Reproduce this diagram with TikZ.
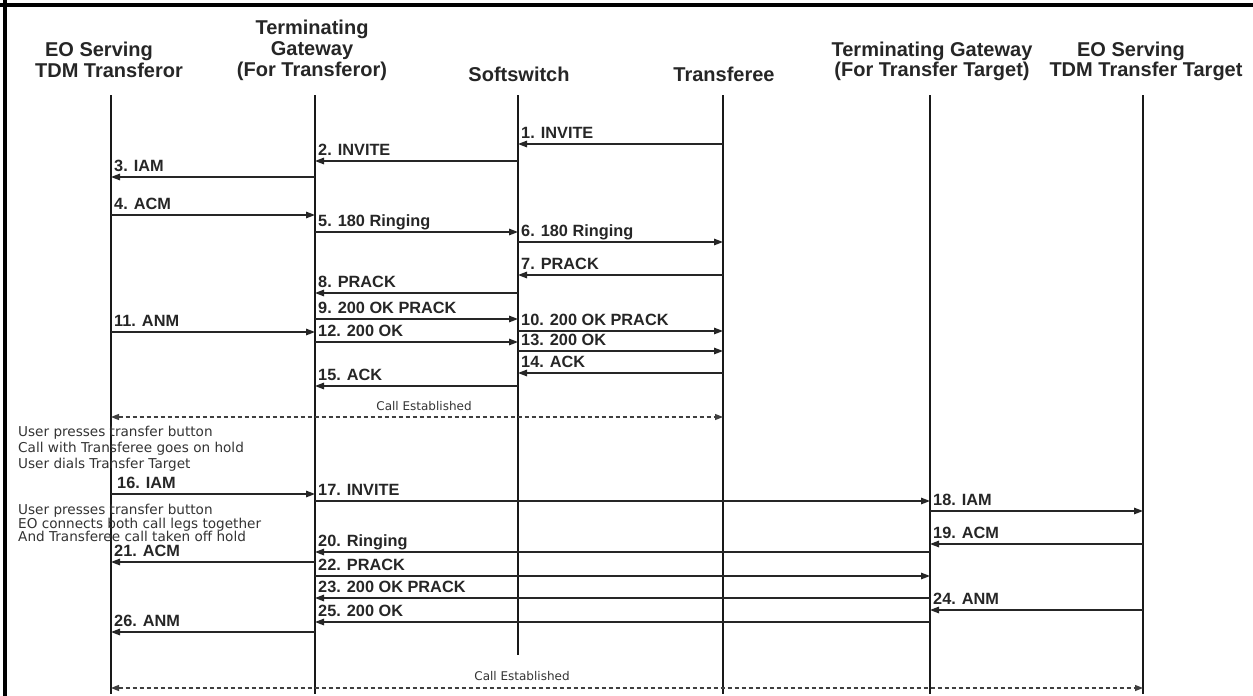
\documentclass[tikz,border=0pt]{standalone}
\usepackage{fontspec}
\setmainfont{Liberation Sans}
\newfontfamily\notefont{DejaVu Sans}
\usetikzlibrary{arrows.meta}
\tikzset{
  life/.style={line width=1.1pt, black!90},
  msg/.style={line width=1.4pt, black!85, -{Triangle[length=9pt,width=6.5pt]}},
  callest/.style={line width=1.3pt, black!75, dash pattern=on 4pt off 3pt,
    {Triangle[length=8pt,width=6pt]}-{Triangle[length=8pt,width=6pt]}},
  head/.style={font=\fontsize{20}{21}\selectfont\bfseries, align=center, inner sep=0pt, text=black!85, anchor=north},
  headr/.style={head, font=\fontsize{20}{17}\selectfont\bfseries},
  lbl/.style={font=\fontsize{16.3}{17}\selectfont\bfseries, inner sep=0pt, anchor=base west, text=black!85},
  note/.style={font=\notefont\fontsize{13.6}{16}\selectfont, align=left, inner sep=0pt, text=black!80, anchor=north west},
  noteb/.style={note, font=\notefont\fontsize{13.6}{13.5}\selectfont},
  estab/.style={font=\notefont\fontsize{12}{13}\selectfont, inner sep=0pt, text=black!80},
  border/.style={line width=4pt, black}
}
\newcommand\msg[6]{%
  \coordinate (#1s) at ([yshift=-#4pt]#2);
  \coordinate (#1t) at ([yshift=-#4pt]#3);
  \coordinate (#1p) at (#5 |- #1s);
  \draw[msg] (#1s) -- (#1t);
  \node[lbl] (#1l) at ([xshift=3pt,yshift=6pt]#1p) {#6};
}
\begin{document}
\begin{tikzpicture}[x=1pt,y=-1pt]
\useasboundingbox (0,0) rectangle (1253,696);
\fill[white] (0,0) rectangle (1253,696);
% frame
\draw[border] (0,5) -- (1253,5);
\draw[border] (5,0) -- (5,696);

% lifeline anchors
\coordinate (A) at (111,0);
\coordinate (B) at (315,0);
\coordinate (C) at (518,0);
\coordinate (D) at (723,0);
\coordinate (E) at (930,0);
\coordinate (F) at (1143,0);

% headers
\node[head] (hA) at (109,42) {EO Serving\hspace*{20pt}\\TDM Transferor};
\node[head] (hB) at (312,20) {Terminating\\Gateway\\(For Transferor)};
\node[head] (hC) at (519,67) {Softswitch};
\node[head] (hD) at (724,67) {Transferee};
\node[headr] (hE) at (932,42) {Terminating Gateway\\(For Transfer Target)};
\node[headr] (hF) at (1146,42) {EO Serving\hspace*{30pt}\\TDM Transfer Target};

% lifelines
\foreach \n/\b in {A/694,B/694,C/655,D/694,E/694,F/694}{
  \coordinate (\n top) at ([yshift=-95pt]\n);
  \coordinate (\n bot) at ([yshift=-\b pt]\n);
  \draw[life] (\n top) -- (\n bot);
}

% messages
\msg{m1}{D}{C}{144}{C}{1. INVITE}
\msg{m2}{C}{B}{161}{B}{2. INVITE}
\msg{m3}{B}{A}{177}{A}{3. IAM}
\msg{m4}{A}{B}{215}{A}{4. ACM}
\msg{m5}{B}{C}{232}{B}{5. 180 Ringing}
\msg{m6}{C}{D}{242}{C}{6. 180 Ringing}
\msg{m7}{D}{C}{275}{C}{7. PRACK}
\msg{m8}{C}{B}{293}{B}{8. PRACK}
\msg{m9}{B}{C}{319}{B}{9. 200 OK PRACK}
\msg{m10}{C}{D}{331}{C}{10. 200 OK PRACK}
\msg{m11}{A}{B}{332}{A}{11. ANM}
\msg{m12}{B}{C}{342}{B}{12. 200 OK}
\msg{m13}{C}{D}{351}{C}{13. 200 OK}
\msg{m14}{D}{C}{373}{C}{14. ACK}
\msg{m15}{C}{B}{386}{B}{15. ACK}

% call established (first)
\coordinate (ce1s) at ([yshift=-417pt]A);
\coordinate (ce1t) at ([yshift=-417pt]D);
\draw[callest] (ce1s) -- (ce1t);
\node[estab] (ce1l) at (424,406) {Call Established};

% notes
\node[note] (n1) at (18,426) {User presses transfer button\\Call with Transferee goes on hold\\User dials Transfer Target};

\msg{m16}{A}{B}{494}{A}{\hspace*{3pt}16. IAM}
\msg{m17}{B}{E}{501}{B}{17. INVITE}

\node[noteb] (n2) at (18,504) {User presses transfer button\\EO connects both call legs together\\And Transferee call taken off hold};

\msg{m18}{E}{F}{511}{E}{18. IAM}
\msg{m19}{F}{E}{544}{E}{19. ACM}
\msg{m20}{E}{B}{552}{B}{20. Ringing}
\msg{m21}{B}{A}{562}{A}{21. ACM}
\msg{m22}{B}{E}{576}{B}{22. PRACK}
\msg{m23}{E}{B}{598}{B}{23. 200 OK PRACK}
\msg{m24}{F}{E}{610}{E}{24. ANM}
\msg{m25}{E}{B}{622}{B}{25. 200 OK}
\msg{m26}{B}{A}{632}{A}{26. ANM}

% call established (second)
\coordinate (ce2s) at ([yshift=-688pt]A);
\coordinate (ce2t) at ([yshift=-688pt]F);
\draw[callest] (ce2s) -- (ce2t);
\node[estab] (ce2l) at (522,676) {Call Established};
\end{tikzpicture}
\end{document}
